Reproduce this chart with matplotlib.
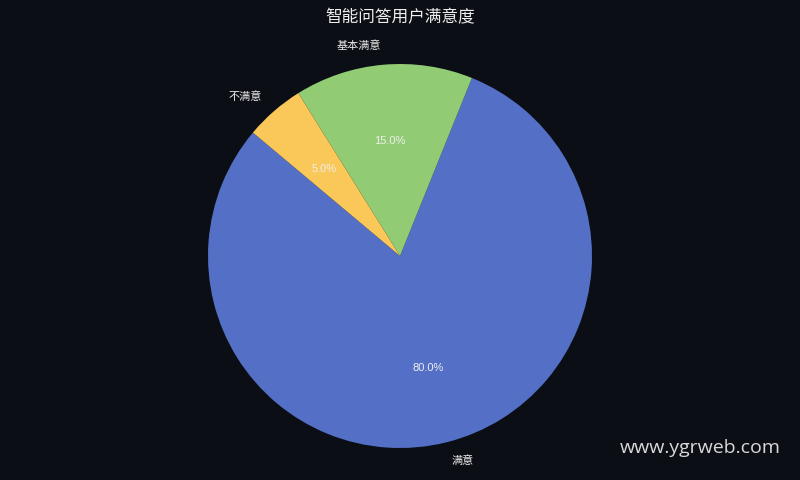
import matplotlib
matplotlib.use("Agg")
import matplotlib.pyplot as plt

categories = ["满意", "基本满意", "不满意"]
values = [80, 15, 5]
colors = ["#5470c6", "#91cc75", "#fac858"]
title = "智能问答用户满意度"
watermark = "www.ygrweb.com"

plt.rcParams['font.family'] = ['Noto Sans CJK SC', 'DejaVu Sans']
bg = "#0b0e14"
txt = "#eeeeee"

fig = plt.figure(figsize=(8, 4.8), dpi=100, facecolor=bg)
ax = fig.add_axes([160/800, -16/480, 480/800, 480/480])
ax.set_facecolor(bg)
wedges, texts, autotexts = ax.pie(
    values, labels=categories, colors=colors, startangle=140,
    autopct="%1.1f%%", pctdistance=0.6, labeldistance=1.1,
    textprops={"color": txt, "fontsize": 8},
)
for t in autotexts:
    t.set_fontfamily(["Liberation Sans", "DejaVu Sans"])
    t.set_fontsize(8)
ax.set_xlim(-1.25, 1.25)
ax.set_ylim(-1.25, 1.25)
ax.set_aspect("equal")
ax.axis("off")

fig.text(0.5, 1 - 18/480, title, ha="center", va="center", color=txt, fontsize=12)
fig.text(781/800, 1 - 448/480, watermark, ha="right", va="center", color="#d9d9d9",
         fontsize=14, family=["Open Sans", "DejaVu Sans"])

fig.savefig("out.png", dpi=100, facecolor=bg)
